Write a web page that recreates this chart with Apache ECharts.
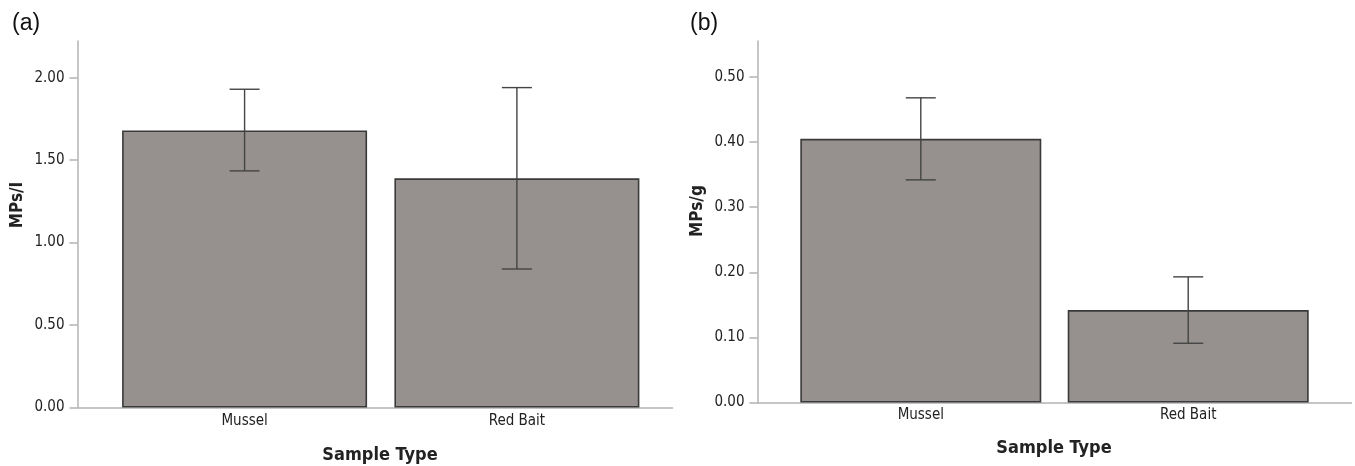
<!DOCTYPE html>
<html>
<head>
<meta charset="utf-8">
<script src="https://cdn.jsdelivr.net/npm/echarts@6/dist/echarts.min.js"></script>
<style>
  html, body { margin: 0; padding: 0; background: #fff; }
  #chart { width: 1355px; height: 466px; }
</style>
</head>
<body>
<div id="chart"></div>
<script>
// Sample groups shown on both panels
const categories = ['Mussel', 'Red Bait'];

// Panel (a): mean microplastics per individual with error bar limits
const perIndMean = [1.68, 1.39];
const perIndLow = [1.435, 0.84];
const perIndHigh = [1.93, 1.94];
const perIndTicks = [0, 0.5, 1.0, 1.5, 2.0];

// Panel (b): mean microplastics per gram with error bar limits
const perGramMean = [0.405, 0.142];
const perGramLow = [0.342, 0.091];
const perGramHigh = [0.468, 0.193];
const perGramTicks = [0, 0.1, 0.2, 0.3, 0.4, 0.5];

const FONT = "'Liberation Sans Narrow', 'DejaVu Sans Condensed', 'Liberation Sans', sans-serif";
const BAR_FILL = '#96918f';
const BAR_EDGE = '#3a3a3a';
const AXIS_GRAY = '#b3b3b3';
const TEXT_DARK = '#222';

const chart = echarts.init(document.getElementById('chart'), null, { renderer: 'canvas' });

function barData(means) {
  return means.map((v, i) => [i, v]);
}
function errData(low, high) {
  return low.map((l, i) => [i, l, high[i]]);
}

// Vertical whisker with short horizontal caps at both ends
function renderError(params, api) {
  const x = api.value(0);
  const lo = api.coord([x, api.value(1)]);
  const hi = api.coord([x, api.value(2)]);
  const half = 15;
  const style = { stroke: '#444', lineWidth: 1.4 };
  return {
    type: 'group',
    children: [
      { type: 'line', shape: { x1: hi[0], y1: hi[1], x2: lo[0], y2: lo[1] }, style },
      { type: 'line', shape: { x1: hi[0] - half, y1: hi[1], x2: hi[0] + half, y2: hi[1] }, style },
      { type: 'line', shape: { x1: lo[0] - half, y1: lo[1], x2: lo[0] + half, y2: lo[1] }, style }
    ]
  };
}

function xAxisFor(gridIndex, min, max, margin) {
  return {
    type: 'value',
    gridIndex,
    min, max,
    axisLine: { show: true, onZero: false, lineStyle: { color: AXIS_GRAY, width: 1.5 } },
    axisTick: { show: false },
    splitLine: { show: false },
    axisLabel: {
      customValues: [0, 1],
      formatter: v => categories[Math.round(v)] || '',
      color: TEXT_DARK,
      fontFamily: FONT,
      fontSize: 15,
      margin
    }
  };
}

function yAxisFor(gridIndex, max, ticks) {
  return {
    type: 'value',
    gridIndex,
    min: 0,
    max,
    axisLine: { show: true, onZero: false, lineStyle: { color: AXIS_GRAY, width: 1.5 } },
    axisTick: { show: true, length: 8, customValues: ticks, lineStyle: { color: AXIS_GRAY, width: 1.5 } },
    splitLine: { show: false },
    axisLabel: {
      customValues: ticks,
      formatter: v => v.toFixed(2),
      color: TEXT_DARK,
      fontFamily: FONT,
      fontSize: 15,
      margin: 13
    }
  };
}

const option = {
  animation: false,
  backgroundColor: '#fff',
  grid: [
    { left: 77.5, right: 682.5, top: 41, bottom: 58.5 },
    { left: 757.5, right: 3.5, top: 41, bottom: 63.5 }
  ],
  xAxis: [
    xAxisFor(0, -0.6136, 1.5714, 6),
    xAxisFor(1, -0.6106, 1.6106, 5)
  ],
  yAxis: [
    yAxisFor(0, 2.2226, perIndTicks),
    yAxisFor(1, 0.5553, perGramTicks)
  ],
  series: [
    {
      type: 'bar', xAxisIndex: 0, yAxisIndex: 0,
      data: barData(perIndMean),
      barWidth: 245,
      itemStyle: { color: BAR_FILL, borderColor: BAR_EDGE, borderWidth: 1.6 }
    },
    {
      type: 'custom', xAxisIndex: 0, yAxisIndex: 0,
      data: errData(perIndLow, perIndHigh),
      renderItem: renderError, z: 5
    },
    {
      type: 'bar', xAxisIndex: 1, yAxisIndex: 1,
      data: barData(perGramMean),
      barWidth: 241,
      itemStyle: { color: BAR_FILL, borderColor: BAR_EDGE, borderWidth: 1.6 }
    },
    {
      type: 'custom', xAxisIndex: 1, yAxisIndex: 1,
      data: errData(perGramLow, perGramHigh),
      renderItem: renderError, z: 5
    }
  ],
  graphic: [
    { type: 'text', left: 12, top: 12, style: { text: '(a)', font: "23px 'Liberation Sans', sans-serif", fill: '#111' } },
    { type: 'text', left: 690, top: 12, style: { text: '(b)', font: "23px 'Liberation Sans', sans-serif", fill: '#111' } },
    { type: 'text', x: 17.5, y: 205, rotation: Math.PI / 2,
      style: { text: 'MPs/I', font: "bold 17px " + FONT, fill: TEXT_DARK, align: 'center', verticalAlign: 'middle' } },
    { type: 'text', x: 697.5, y: 211, rotation: Math.PI / 2,
      style: { text: 'MPs/g', font: "bold 17px " + FONT, fill: TEXT_DARK, align: 'center', verticalAlign: 'middle' } },
    { type: 'text', x: 380, y: 455,
      style: { text: 'Sample Type', font: "bold 18px " + FONT, fill: TEXT_DARK, align: 'center', verticalAlign: 'middle' } },
    { type: 'text', x: 1054, y: 448,
      style: { text: 'Sample Type', font: "bold 18px " + FONT, fill: TEXT_DARK, align: 'center', verticalAlign: 'middle' } }
  ]
};

chart.setOption(option);
</script>
</body>
</html>
